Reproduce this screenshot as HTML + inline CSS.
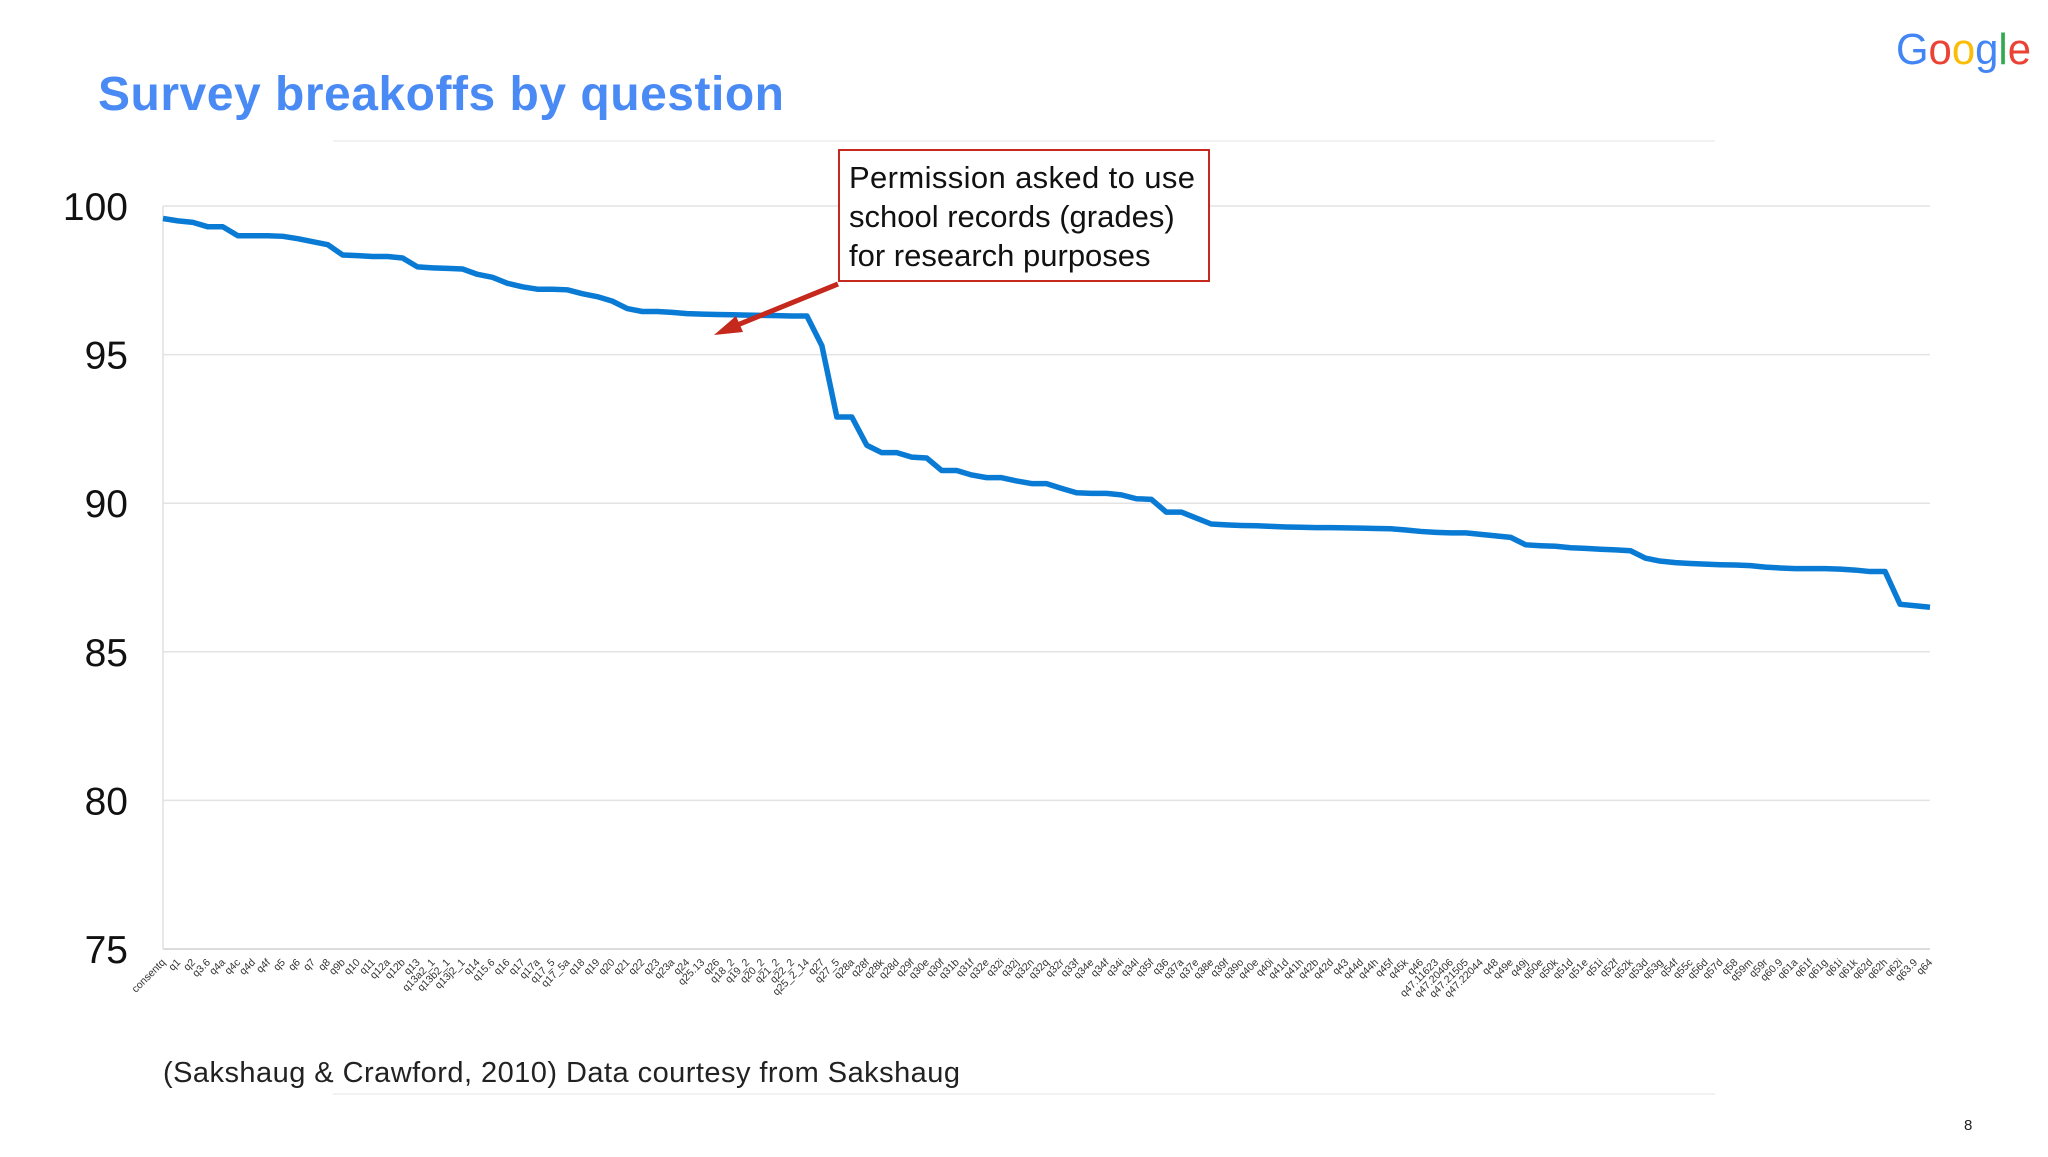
<!DOCTYPE html>
<html><head><meta charset="utf-8"><style>
body{margin:0;background:#fff;width:2048px;height:1152px;overflow:hidden;font-family:"Liberation Sans",Arial,sans-serif}
</style></head><body>
<svg width="2048" height="1152" xmlns="http://www.w3.org/2000/svg" font-family="Liberation Sans, Arial, sans-serif">
<text x="98" y="110" font-size="48" font-weight="bold" fill="#4a8af4" textLength="686">Survey breakoffs by question</text>
<g font-size="44"><text x="1896" y="64" textLength="135" lengthAdjust="spacingAndGlyphs"><tspan fill="#4285F4">G</tspan><tspan fill="#EA4335">o</tspan><tspan fill="#FBBC05">o</tspan><tspan fill="#4285F4">g</tspan><tspan fill="#34A853">l</tspan><tspan fill="#EA4335">e</tspan></text></g>
<line x1="333" y1="141" x2="1715" y2="141" stroke="#eeeeee" stroke-width="1.5"/>
<line x1="333" y1="1094" x2="1715" y2="1094" stroke="#eeeeee" stroke-width="1.5"/>
<g id="chart"></g>
<text x="163" y="1082" font-size="29" fill="#222" textLength="797">(Sakshaug &amp; Crawford, 2010) Data courtesy from Sakshaug</text>
<text x="1964" y="1130" font-size="15" fill="#222">8</text>
<rect x="839" y="150" width="370" height="131" fill="#fff" stroke="#c5281c" stroke-width="2"/>
<g font-size="31" fill="#111">
<text x="849" y="188" textLength="346">Permission asked to use</text>
<text x="849" y="227">school records (grades)</text>
<text x="849" y="266">for research purposes</text></g>
<line x1="838" y1="284" x2="730" y2="328" stroke="#c5281c" stroke-width="5"/>
<polygon points="714,335 736,316 743,332" fill="#c5281c"/>
</svg>
<script>
const categories=["consentq","q1","q2","q3.6","q4a","q4c","q4d","q4f","q5","q6","q7","q8","q9b","q10","q11","q12a","q12b","q13","q13a2_1","q13b2_1","q13j2_1","q14","q15.6","q16","q17","q17a","q17_5","q17_5a","q18","q19","q20","q21","q22","q23","q23a","q24","q25.13","q26","q18_2","q19_2","q20_2","q21_2","q22_2","q25_2_14","q27","q27_5","q28a","q28f","q28k","q28d","q29f","q30e","q30f","q31b","q31f","q32e","q32i","q32j","q32n","q32q","q32r","q33f","q34e","q34f","q34i","q34l","q35f","q36","q37a","q37e","q38e","q39f","q39o","q40e","q40i","q41d","q41h","q42b","q42d","q43","q44d","q44h","q45f","q45k","q46","q47.11623","q47.20406","q47.21505","q47.22044","q48","q49e","q49j","q50e","q50k","q51d","q51e","q51i","q52f","q52k","q53d","q53g","q54f","q55c","q56d","q57d","q58","q59m","q59r","q60.9","q61a","q61f","q61g","q61i","q61k","q62d","q62h","q62i","q63.9","q64"];
const values=[99.58,99.5,99.45,99.3,99.3,99.0,99.0,99.0,98.98,98.9,98.8,98.7,98.35,98.33,98.3,98.3,98.25,97.95,97.92,97.9,97.88,97.7,97.6,97.4,97.28,97.2,97.2,97.18,97.05,96.95,96.8,96.55,96.45,96.45,96.42,96.38,96.36,96.35,96.34,96.33,96.32,96.31,96.3,96.3,95.3,92.9,92.9,91.95,91.7,91.7,91.55,91.52,91.1,91.1,90.95,90.86,90.86,90.75,90.66,90.66,90.5,90.35,90.33,90.33,90.28,90.15,90.13,89.7,89.7,89.5,89.3,89.27,89.25,89.24,89.22,89.2,89.19,89.18,89.18,89.17,89.16,89.15,89.14,89.1,89.05,89.02,89.0,89.0,88.95,88.9,88.85,88.6,88.57,88.55,88.5,88.48,88.45,88.43,88.4,88.15,88.05,88.0,87.97,87.95,87.93,87.92,87.9,87.85,87.82,87.8,87.8,87.8,87.78,87.75,87.7,87.7,86.6,86.55,86.5];
const yTicks=[75,80,85,90,95,100];
const NS="http://www.w3.org/2000/svg";
const g=document.getElementById('chart');
const X0=163,X1=1930,Y0=949,Y1=206;
function xs(i){return X0+(X1-X0)*i/(categories.length-1);}
function ys(v){return Y0-(v-75)/(100-75)*(Y0-Y1);}
function mk(t,a){const e=document.createElementNS(NS,t);for(const k in a)e.setAttribute(k,a[k]);g.appendChild(e);return e;}
for(const t of yTicks){
 const l=mk('line',{x1:X0,x2:X1,y1:ys(t),y2:ys(t),stroke:t===75?'#d0d0d0':'#e3e3e3','stroke-width':1.5});
 
 
 const tx=mk('text',{x:128,y:ys(t)+14,'text-anchor':'end','font-size':39,fill:'#111'});
 tx.textContent=t;
 
 
}
const ax=mk('line',{x1:X0,x2:X0,y1:Y1,y2:Y0,stroke:'#e0e0e0','stroke-width':1.5});


categories.forEach((c,i)=>{
 const x=xs(i);
 const t=mk('text',{x:x+3,y:Y0+14,'text-anchor':'end','font-size':10.5,fill:'#333',transform:`rotate(-45 ${x+3} ${Y0+14})`});
 t.textContent=c;
 
 
});
const p=mk('polyline',{points:values.map((v,i)=>xs(i)+','+ys(v)).join(' '),fill:'none',stroke:'#0a7bd4','stroke-width':5.5,'stroke-linejoin':'round'});


</script>
</body></html>
